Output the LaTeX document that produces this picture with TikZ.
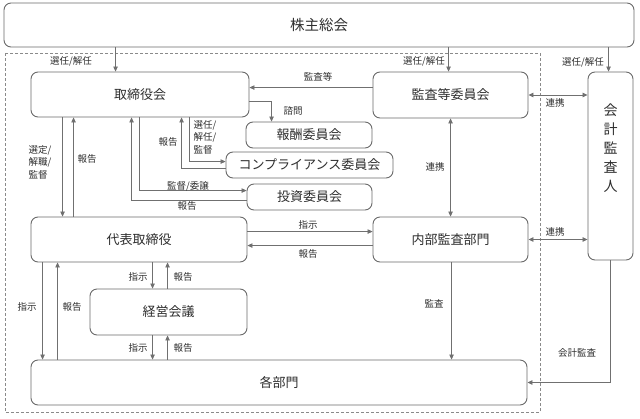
\documentclass[tikz,border=0pt]{standalone}
\usepackage{fontspec}
\setmainfont{Noto Sans CJK JP}
\usetikzlibrary{arrows.meta}
\definecolor{ln}{HTML}{707070}
\definecolor{bx}{HTML}{6A6A6A}
\definecolor{tx}{HTML}{2E2E2E}
\definecolor{dsh}{HTML}{8A8A8A}
\begin{document}
\begin{tikzpicture}[x=1pt,y=-1pt,
 box/.style={draw=bx, line width=0.9pt, rounded corners=7pt, fill=white, text=tx, font=\fontsize{13}{15}\selectfont, inner sep=0pt},
 sz/.style 2 args={minimum width=#1pt, minimum height=#2pt},
 arr/.style={draw=ln, line width=0.8pt, -{Triangle[length=5pt,width=4.5pt]}},
 arr2/.style={draw=ln, line width=0.8pt, {Triangle[length=5pt,width=4.5pt]}-{Triangle[length=5pt,width=4.5pt]}},
 lb/.style={text=tx, font=\fontsize{9.5}{12.5}\selectfont, inner sep=0pt, align=left},
]
\useasboundingbox (0,0) rectangle (640,418);
\draw[dsh, line width=0.7pt, dash pattern=on 3pt off 2pt] (5,53) rectangle (540,412);

% boxes
\node[box, sz={630}{44}, font=\fontsize{14.5}{16}\selectfont] (top) at (319,25) {株主総会};
\node[box, sz={218}{45}] (tori) at (140,94.5) {取締役会};
\node[box, sz={155}{46}] (kansa) at (450.5,95) {監査等委員会};
\node[box, sz={45}{188}] (kaikei) at (610.5,166) {};
\node[text=tx, font=\fontsize{14}{19}\selectfont, align=center, inner sep=0pt] (kaikeit) at (610.5,148) {会\\計\\監\\査\\人};
\node[box, sz={126}{26}] (hoshu) at (309,135) {報酬委員会};
\node[box, sz={167}{26}] (comp) at (309.5,165) {コンプライアンス委員会};
\node[box, sz={125}{26}] (toshi) at (309.5,197) {投資委員会};
\node[box, sz={216}{45}] (daihyo) at (139,239.5) {代表取締役};
\node[box, sz={155}{45}] (naibu) at (450.5,239.5) {内部監査部門};
\node[box, sz={157}{46}] (keiei) at (168.5,312) {経営会議};
\node[box, sz={496}{45}] (kaku) at (279,382.5) {各部門};

% top connectors
\draw[arr] ([xshift=112pt]top.south west) -- ([xshift=85pt]tori.north west);
\node[lb] (l1) at (71,61) {選任/解任};
\draw[arr] ([xshift=445pt]top.south west) -- ([xshift=76pt]kansa.north west);
\node[lb] (l2) at (424,61) {選任/解任};
\draw[arr] ([xshift=605pt]top.south west) -- ([xshift=21pt]kaikei.north west);
\node[lb] (l3) at (583,62) {選任/解任};

% kansa
\draw[arr] ([yshift=-16pt]kansa.north west) coordinate (k1) -- (k1 -| tori.east);
\node[lb] (l4) at (318,77) {監査等};
\draw[arr2] (kansa.east) -- (kansa.east -| kaikei.west);
\node[lb] (l5) at (555,103) {連携};

% committees
\draw[arr] ([yshift=-30pt]tori.north east) -| ([xshift=26pt]hoshu.north west);
\node[lb] (l6) at (293,111) {諮問};
\draw[arr] ([xshift=159pt]tori.south west) |- ([yshift=-10pt]comp.north west);
\node[lb] (l7) at (205,137) {選任/\\解任/\\監督};
\draw[arr] ([yshift=-17pt]comp.north west) -| ([xshift=151pt]tori.south west);
\node[lb] (l8) at (168,142) {報告};
\draw[arr] ([xshift=109pt]tori.south west) |- ([yshift=-7pt]toshi.north west);
\node[lb] (l9) at (188,186) {監督/委譲};
\draw[arr] ([yshift=-17pt]toshi.north west) -| ([xshift=101pt]tori.south west);
\node[lb] (l10) at (187,206) {報告};

% tori <-> daihyo
\draw[arr] ([xshift=32pt]tori.south west) -- ([xshift=32pt]daihyo.north west);
\node[lb] (l11) at (40,162) {選定/\\解職/\\監督};
\draw[arr] ([xshift=43pt]daihyo.north west) -- ([xshift=43pt]tori.south west);
\node[lb] (l12) at (87,159) {報告};

% kansa <-> naibu
\draw[arr2] ([xshift=78pt]kansa.south west) -- ([xshift=78pt]naibu.north west);
\node[lb] (l13) at (435,167) {連携};

% daihyo <-> naibu
\draw[arr] ([yshift=-15pt]daihyo.north east) -- ([yshift=-15pt]naibu.north west);
\node[lb] (l14) at (308,225) {指示};
\draw[arr] ([yshift=-29pt]naibu.north west) -- ([yshift=-29pt]daihyo.north east);
\node[lb] (l15) at (308,254) {報告};

% naibu <-> kaikei
\draw[arr2] (naibu.east) -- (naibu.east -| kaikei.west);
\node[lb] (l16) at (555,232) {連携};

% audit
\draw[arr] ([xshift=79pt]naibu.south west) coordinate (q1) -- (q1 |- kaku.north);
\node[lb] (l17) at (434,304) {監査};
\draw[arr] (kaikei.south) |- (kaku.east);
\node[lb] (l18) at (577,353) {会計監査};

% daihyo <-> keiei
\draw[arr] ([xshift=122pt]daihyo.south west) -- ([xshift=63pt]keiei.north west);
\node[lb] (l19) at (138,277) {指示};
\draw[arr] ([xshift=78pt]keiei.north west) -- ([xshift=137pt]daihyo.south west);
\node[lb] (l20) at (183,277) {報告};

% keiei <-> kaku
\draw[arr] ([xshift=63pt]keiei.south west) -- ([xshift=122pt]kaku.north west);
\node[lb] (l21) at (138,348) {指示};
\draw[arr] ([xshift=137pt]kaku.north west) -- ([xshift=78pt]keiei.south west);
\node[lb] (l22) at (183,348) {報告};

% daihyo <-> kaku
\draw[arr] ([xshift=12pt]daihyo.south west) -- ([xshift=12pt]kaku.north west);
\node[lb] (l23) at (27,307) {指示};
\draw[arr] ([xshift=27pt]kaku.north west) -- ([xshift=27pt]daihyo.south west);
\node[lb] (l24) at (72,307) {報告};
\end{tikzpicture}
\end{document}
